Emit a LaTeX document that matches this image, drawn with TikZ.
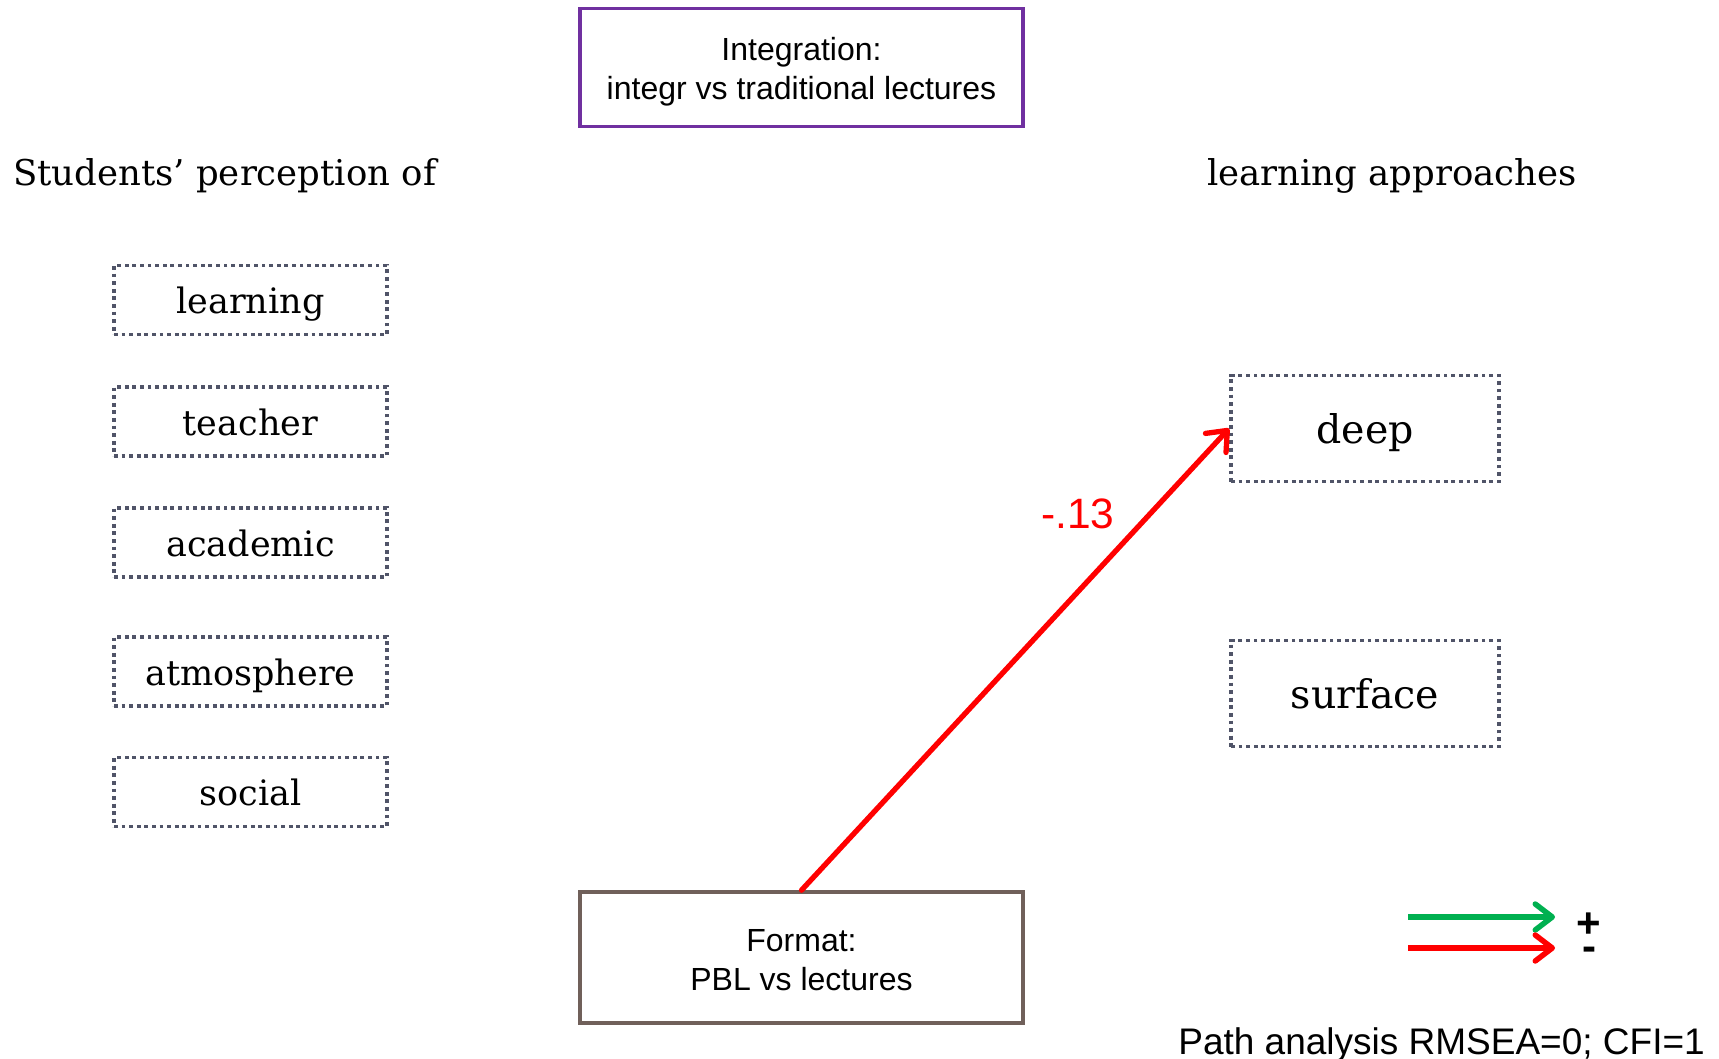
\documentclass[tikz,border=0pt]{standalone}
\usepackage{fontspec}
\setmainfont{DejaVu Serif}
\newfontfamily\arialf{Liberation Sans}
\usetikzlibrary{arrows.meta}
\definecolor{purplebox}{RGB}{112,48,160}
\definecolor{brownbox}{RGB}{112,96,90}
\definecolor{dotgray}{RGB}{80,84,104}
\definecolor{pathred}{RGB}{255,0,0}
\definecolor{pathgreen}{RGB}{0,176,80}
\tikzset{
  solidbox/.style={draw, line width=3.6pt, minimum width=443pt, inner sep=0pt, align=center,
    font=\arialf\fontsize{32}{38.4}\selectfont},
  dotbox/.style={draw=dotgray, line width=3.8pt, dash pattern=on 3.8pt off 3.8pt, inner sep=0pt,
    text depth=0pt},
  leftbox/.style={dotbox, minimum width=273pt, minimum height=69pt, text height=27pt,
    font=\fontsize{35}{40}\selectfont},
  rightbox/.style={dotbox, minimum width=268pt, minimum height=106pt, text height=29pt,
    font=\fontsize{39.5}{46}\selectfont},
  titletext/.style={anchor=base west, inner sep=0pt, font=\fontsize{35.5}{42}\selectfont},
  patharrow/.style={line width=5.3pt, line cap=round,
    -{Straight Barb[length=17pt, width=28pt, line width=5.3pt, round]}},
  legendarrow/.style={line width=5.5pt,
    -{Straight Barb[length=17pt, width=26pt, line width=5.5pt, round]}},
  signtext/.style={anchor=base, inner sep=0pt, font=\arialf\bfseries\fontsize{42}{48}\selectfont},
}
\begin{document}
\begin{tikzpicture}[x=1pt, y=-1pt]
\useasboundingbox (0,0) rectangle (1719,1059);
\node[solidbox, draw=purplebox, minimum height=118pt] (integ) at (801.5,67.5) {\rule{0pt}{32pt}Integration:\\integr vs traditional lectures};
\node[solidbox, draw=brownbox, minimum height=131pt] (format) at (801.5,957.5) {\rule{0pt}{27.5pt}Format:\\PBL vs lectures};
\node[titletext] (ltitle) at (13,186) {Students’ perception of};
\node[titletext] (rtitle) at (1207,186) {learning approaches};
\node[leftbox] (learning) at (250.5,300) {learning};
\node[leftbox] (teacher) at (250.5,421.5) {teacher};
\node[leftbox] (academic) at (250.5,542.5) {academic};
\node[leftbox] (atmos) at (250.5,671.5) {atmosphere};
\node[leftbox] (social) at (250.5,792) {social};
\node[rightbox] (deep) at (1365,428.5) {deep};
\node[rightbox] (surface) at (1365,693.5) {surface};
\draw[patharrow, pathred] (format.north) -- (deep.west);
\node[text=pathred, font=\arialf\fontsize{42.5}{48}\selectfont, inner sep=0pt] (coef) at (1078,514) {-.13};
\coordinate (g1) at (1408,917);
\coordinate (g2) at (1555,917);
\coordinate (r1) at (1408,948);
\coordinate (r2) at (1555,948);
\draw[legendarrow, pathgreen] (g1) -- (g2);
\draw[legendarrow, pathred] (r1) -- (r2);
\node[signtext] (plus) at (1589,937) {+};
\node[signtext] (minus) at (1589,960) {-};
\node[anchor=base east, inner sep=0pt, font=\arialf\fontsize{37}{44}\selectfont] (fit) at (1705,1054) {Path analysis RMSEA=0; CFI=1};
\end{tikzpicture}
\end{document}
